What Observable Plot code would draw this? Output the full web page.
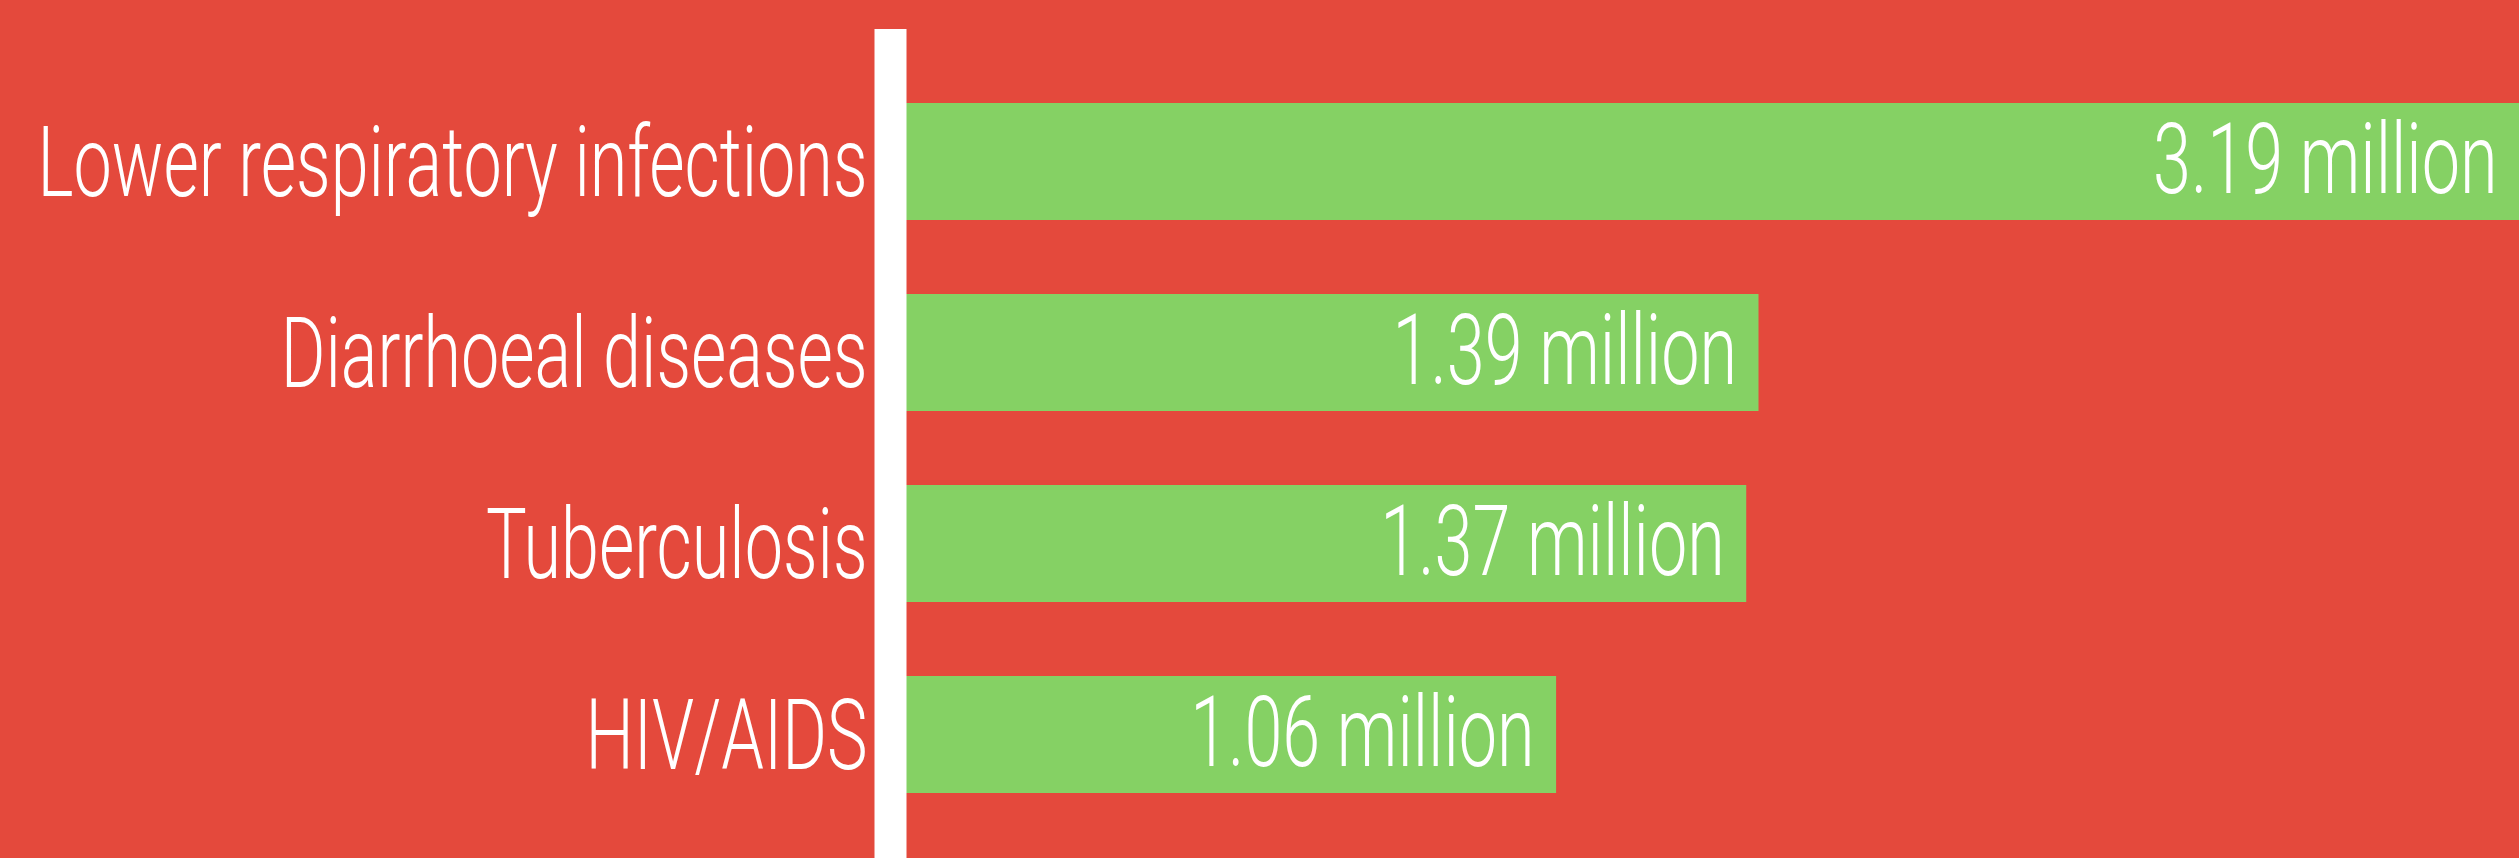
<!DOCTYPE html>
<html>
<head>
<meta charset="utf-8">
<script src="https://cdn.jsdelivr.net/npm/d3@7"></script>
<script src="https://cdn.jsdelivr.net/npm/@observablehq/plot@0.6"></script>
<style>
  html, body { margin: 0; padding: 0; background: #E4493C; overflow: hidden; }
  #chart svg { display: block; }
</style>
</head>
<body>
<div id="chart"></div>
<script>
// Data
const causes = ["Lower respiratory infections", "Diarrhoeal diseases", "Tuberculosis", "HIV/AIDS"];
const deaths = [3.19, 1.39, 1.37, 1.06]; // millions
const valueLabels = ["3.19 million", "1.39 million", "1.37 million", "1.06 million"];

const data = causes.map((c, i) => ({cause: c, value: deaths[i], label: valueLabels[i]}));

const RED = "#E4493C";
const GREEN = "#85D164";
const FONT = "Roboto, 'Liberation Sans Narrow', sans-serif";
const SX = 0.697; // horizontal condensation of the text

const chart = Plot.plot({
  width: 2519,
  height: 858,
  marginLeft: 906,
  marginRight: 0,
  marginTop: 29,
  marginBottom: 0,
  style: {background: RED, fontFamily: FONT},
  x: {domain: [0, 2.63], clamp: true, axis: null},
  y: {domain: causes, paddingInner: 0.385, paddingOuter: 0.352, align: 0.533, label: null},
  marks: [
    Plot.barX(data, {x: "value", y: "cause", fill: GREEN}),
    Plot.ruleX([0], {stroke: "white", strokeWidth: 32, dx: -16}),
    Plot.axisY({tickSize: 0, tickPadding: 39, dy: 3, fontSize: 98, fontWeight: 300, fill: "white", label: null, fontFamily: FONT}),
    Plot.text(data, {x: "value", y: "cause", text: "label", textAnchor: "end", dx: -22, fill: "white", fontSize: 98, fontWeight: 300, fontFamily: FONT})
  ]
});

// condense each label horizontally around its own anchor point
chart.querySelectorAll("text").forEach(t => {
  const tr = t.getAttribute("transform");
  if (tr && /translate/.test(tr)) t.setAttribute("transform", tr + ` scale(${SX},1)`);
});

document.getElementById("chart").appendChild(chart);
</script>
</body>
</html>
